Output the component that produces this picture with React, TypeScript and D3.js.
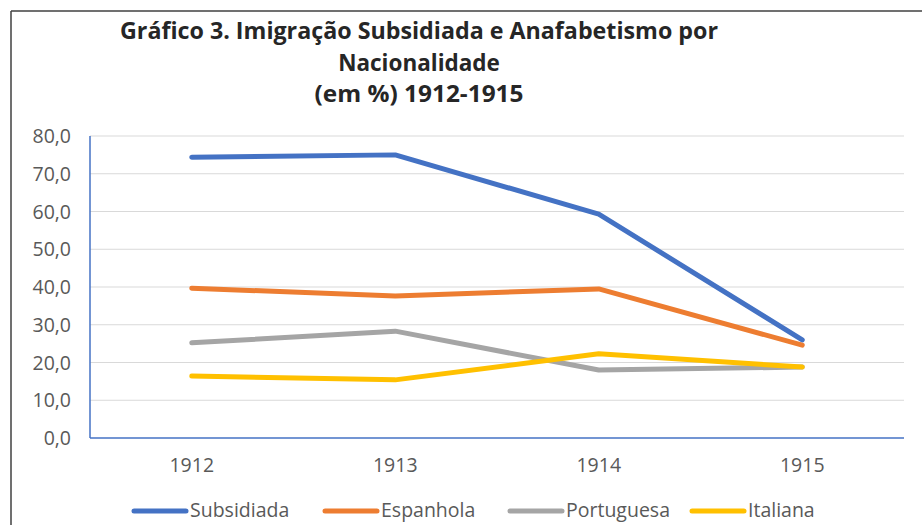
import React from 'react'
import * as d3 from 'd3'

const years = ['1912', '1913', '1914', '1915']
const subsidiada = [74.4, 75.0, 59.3, 26.0]
const espanhola = [39.7, 37.6, 39.5, 24.6]
const portuguesa = [25.2, 28.3, 18.0, 18.8]
const italiana = [16.4, 15.4, 22.3, 18.8]
const yTicks = [0, 10, 20, 30, 40, 50, 60, 70, 80]

const seriesList = [
  { name: 'Subsidiada', values: subsidiada, color: '#4472C4' },
  { name: 'Espanhola', values: espanhola, color: '#ED7D31' },
  { name: 'Portuguesa', values: portuguesa, color: '#A5A5A5' },
  { name: 'Italiana', values: italiana, color: '#FFC000' },
]
const legendX = [134, 325, 510, 692]

const W = 922
const H = 525
const font = 'Open Sans, Noto Sans, sans-serif'

export default function App() {
  const x = d3.scaleBand().domain(years).range([90, 904])
  const y = d3.scaleLinear().domain([0, 80]).range([438, 136])
  const fmt = (v: number) => v.toFixed(1).replace('.', ',')

  const line = d3.line<number>()
    .x((d, i) => x(years[i])! + x.bandwidth() / 2)
    .y((d) => y(d))

  return (
    <svg width={W} height={H} style={{ position: 'absolute', left: 0, top: 0, background: '#fff' }}>
      <rect x={0} y={0} width={W} height={H} fill="#fff" />
      {/* outer frame */}
      <line x1={11} y1={11} x2={W} y2={11} stroke="#404040" strokeWidth={1.5} />
      <line x1={11} y1={11} x2={11} y2={H} stroke="#404040" strokeWidth={1.5} />

      {/* title */}
      <g fontFamily={font} fontWeight="bold" fontSize={22.5} fill="#262626" textAnchor="middle">
        <text x={419} y={39} textLength={598} lengthAdjust="spacingAndGlyphs">Gráfico 3. Imigração Subsidiada e Anafabetismo por</text>
        <text x={419} y={71}>Nacionalidade</text>
        <text x={419} y={102} textLength={209} lengthAdjust="spacingAndGlyphs">(em %) 1912-1915</text>
      </g>

      {/* gridlines */}
      {yTicks.filter((t) => t > 0).map((t) => (
        <line key={t} x1={90} x2={904} y1={y(t)} y2={y(t)} stroke="#d9d9d9" strokeWidth={1.2} />
      ))}

      {/* y tick labels */}
      <g fontFamily={font} fontSize={19.5} fill="#595959" textAnchor="end">
        {yTicks.map((t) => (
          <text key={t} x={71} y={y(t) + 7}>{fmt(t)}</text>
        ))}
      </g>

      {/* axes */}
      <line x1={90} x2={90} y1={136} y2={438} stroke="#4472C4" strokeWidth={1.5} />
      <line x1={90} x2={904} y1={438} y2={438} stroke="#4472C4" strokeWidth={1.5} />

      {/* x labels */}
      <g fontFamily={font} fontSize={19.5} fill="#595959" textAnchor="middle">
        {years.map((yr) => (
          <text key={yr} x={x(yr)! + x.bandwidth() / 2} y={472}>{yr}</text>
        ))}
      </g>

      {/* lines */}
      {seriesList.map((s) => (
        <path key={s.name} d={line(s.values)!} fill="none" stroke={s.color}
          strokeWidth={5} strokeLinecap="round" strokeLinejoin="round" />
      ))}

      {/* legend */}
      <g fontFamily={font} fontSize={19.5} fill="#595959">
        {seriesList.map((s, i) => (
          <g key={s.name}>
            <line x1={legendX[i]} x2={legendX[i] + 52} y1={511} y2={511} stroke={s.color}
              strokeWidth={5} strokeLinecap="round" />
            <text x={legendX[i] + 56} y={517}>{s.name}</text>
          </g>
        ))}
      </g>
    </svg>
  )
}
